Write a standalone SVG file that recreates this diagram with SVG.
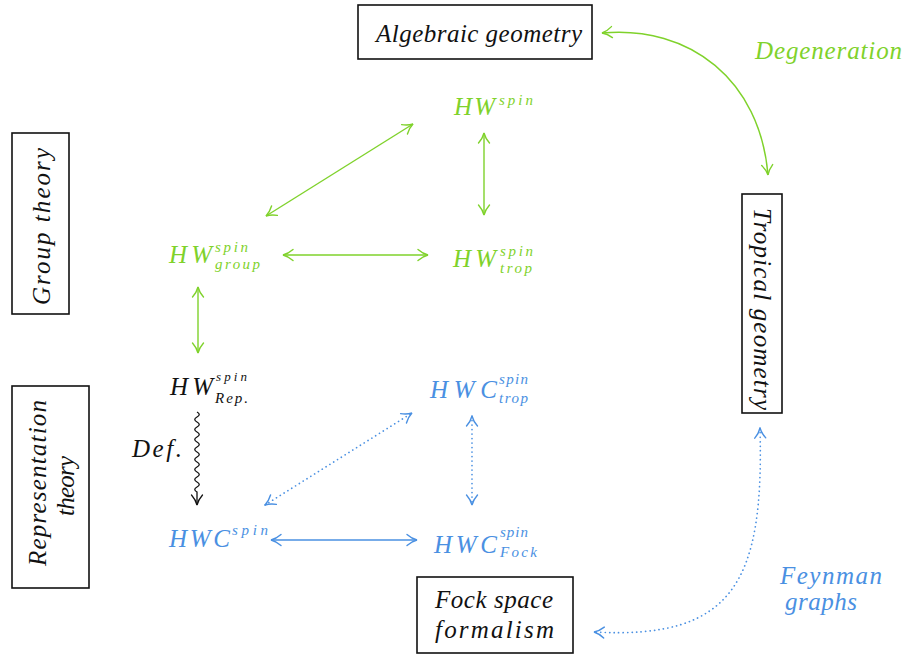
<svg xmlns="http://www.w3.org/2000/svg" width="906" height="654" viewBox="0 0 906 654">
  <style>
    text { font-family: "Liberation Serif", "DejaVu Serif", serif; font-style: italic; }
    .lg { font-size: 25px; }
    .sm { font-size: 15px; }
    .xs { font-size: 13px; }
    .green { fill: #7fd22b; }
    .blue { fill: #4a90e2; }
    .black { fill: #111; }
    .box { fill: #fff; stroke: #111; stroke-width: 1.6; }
    .eg { fill: none; stroke: #7fd22b; stroke-width: 1.4; }
    .eb { fill: none; stroke: #4a90e2; stroke-width: 1.4; }
    .dot { stroke-dasharray: 0.1 4.4; stroke-linecap: round; stroke-width: 1.7; }
    .ek { fill: none; stroke: #111; stroke-width: 1.3; }
  </style>
  <defs>
    <marker id="hg" markerUnits="userSpaceOnUse" markerWidth="14" markerHeight="14" viewBox="-12 -7 14 14" refX="0" refY="0" orient="auto-start-reverse">
      <path d="M-10,-5.5 C-6,-2 -2,-0.5 0,0 C-2,0.5 -6,2 -10,5.5" fill="none" stroke="#7fd22b" stroke-width="1.4" stroke-linecap="round"/>
    </marker>
    <marker id="hb" markerUnits="userSpaceOnUse" markerWidth="14" markerHeight="14" viewBox="-12 -7 14 14" refX="0" refY="0" orient="auto-start-reverse">
      <path d="M-10,-5.5 C-6,-2 -2,-0.5 0,0 C-2,0.5 -6,2 -10,5.5" fill="none" stroke="#4a90e2" stroke-width="1.4" stroke-linecap="round"/>
    </marker>
    <marker id="hk" markerUnits="userSpaceOnUse" markerWidth="14" markerHeight="14" viewBox="-12 -7 14 14" refX="0" refY="0" orient="auto">
      <path d="M-10,-5.5 C-6,-2 -2,-0.5 0,0 C-2,0.5 -6,2 -10,5.5" fill="none" stroke="#111" stroke-width="1.3" stroke-linecap="round"/>
    </marker>
  </defs>

  <!-- framed fields -->
  <g id="algebraic-geometry">
    <rect class="box" x="358" y="5" width="234" height="54"/>
    <text class="lg black" x="376" y="42" textLength="206" lengthAdjust="spacing">Algebraic geometry</text>
  </g>
  <g id="group-theory">
    <rect class="box" x="12" y="133" width="57" height="181"/>
    <text class="lg black" transform="translate(50,226.5) rotate(-90)" text-anchor="middle" textLength="157" lengthAdjust="spacing">Group theory</text>
  </g>
  <g id="representation-theory">
    <rect class="box" x="12" y="386" width="77" height="202"/>
    <text class="lg black" transform="translate(46,483) rotate(-90)" text-anchor="middle" textLength="166" lengthAdjust="spacing">Representation</text>
    <text class="lg black" transform="translate(74,486) rotate(-90)" text-anchor="middle" textLength="60" lengthAdjust="spacing">theory</text>
  </g>
  <g id="tropical-geometry">
    <rect class="box" x="742" y="194" width="40" height="219"/>
    <text class="lg black" transform="translate(754,309) rotate(90)" text-anchor="middle" textLength="202" lengthAdjust="spacing">Tropical geometry</text>
  </g>
  <g id="fock-space">
    <rect class="box" x="417" y="577" width="156" height="76"/>
    <text class="lg black" x="435" y="608" textLength="118" lengthAdjust="spacing">Fock space</text>
    <text class="lg black" x="435" y="638" textLength="119" lengthAdjust="spacing">formalism</text>
  </g>

  <!-- Hurwitz number nodes -->
  <g id="hw-spin">
    <text class="lg green" x="454" y="115" textLength="41" lengthAdjust="spacing">HW</text>
    <text class="sm green" x="499" y="105" textLength="34" lengthAdjust="spacing">spin</text>
  </g>
  <g id="hw-group">
    <text class="lg green" x="169" y="263" textLength="43" lengthAdjust="spacing">HW</text>
    <text class="sm green" x="215" y="252" textLength="33" lengthAdjust="spacing">spin</text>
    <text class="sm green" x="215" y="269" textLength="45" lengthAdjust="spacing">group</text>
  </g>
  <g id="hw-trop">
    <text class="lg green" x="453" y="267" textLength="43" lengthAdjust="spacing">HW</text>
    <text class="sm green" x="500" y="256" textLength="33" lengthAdjust="spacing">spin</text>
    <text class="sm green" x="500" y="273" textLength="32" lengthAdjust="spacing">trop</text>
  </g>
  <g id="hw-rep">
    <text class="lg black" x="170" y="395" textLength="43" lengthAdjust="spacing">HW</text>
    <text class="xs black" x="216" y="381" textLength="31" lengthAdjust="spacing">spin</text>
    <text class="sm black" x="215" y="403" textLength="33" lengthAdjust="spacing">Rep.</text>
  </g>
  <g id="hwc-trop">
    <text class="lg blue" x="430" y="398" textLength="67" lengthAdjust="spacing">HWC</text>
    <text class="sm blue" x="499" y="384" textLength="29" lengthAdjust="spacing">spin</text>
    <text class="sm blue" x="499" y="403" textLength="29" lengthAdjust="spacing">trop</text>
  </g>
  <g id="hwc-spin">
    <text class="lg blue" x="169" y="547" textLength="61" lengthAdjust="spacing">HWC</text>
    <text class="sm blue" x="232" y="535" textLength="36" lengthAdjust="spacing">spin</text>
  </g>
  <g id="hwc-fock">
    <text class="lg blue" x="434" y="553" textLength="63" lengthAdjust="spacing">HWC</text>
    <text class="sm blue" x="500" y="537" textLength="28" lengthAdjust="spacing">spin</text>
    <text class="sm blue" x="500" y="557" textLength="37" lengthAdjust="spacing">Fock</text>
  </g>

  <!-- connectors -->
  <g id="connectors">
    <path class="eg" d="M602,33 C690,25 760,80 768,175" marker-start="url(#hg)" marker-end="url(#hg)"/>
    <path class="eg" d="M266,216 L413,124" marker-start="url(#hg)" marker-end="url(#hg)"/>
    <path class="eg" d="M484,133 L484,215" marker-start="url(#hg)" marker-end="url(#hg)"/>
    <path class="eg" d="M283,255 L428,255" marker-start="url(#hg)" marker-end="url(#hg)"/>
    <path class="eg" d="M198,287 L198,353" marker-start="url(#hg)" marker-end="url(#hg)"/>
    <path class="ek" d="M197,412 q4.5,2.5 0,5 t0,5 t0,5 t0,5 t0,5 t0,5 t0,5 t0,5 t0,5 t0,5 t0,5 t0,5 t0,5 t0,5 t0,5 t0,5 L197,505" marker-end="url(#hk)"/>
    <path class="eb dot" d="M265,505 L412,413" marker-start="url(#hb)" marker-end="url(#hb)"/>
    <path class="eb dot" d="M472,416 L472,505" marker-start="url(#hb)" marker-end="url(#hb)"/>
    <path class="eb" d="M271,540 L417,540" marker-start="url(#hb)" marker-end="url(#hb)"/>
    <path class="eb dot" d="M760,428 C764,580 735,640 594,632" marker-start="url(#hb)" marker-end="url(#hb)"/>
  </g>

  <!-- connector labels -->
  <text class="lg green" x="755" y="59" textLength="147" lengthAdjust="spacing">Degeneration</text>
  <text class="lg black" x="132" y="457" textLength="50" lengthAdjust="spacing">Def.</text>
  <text class="lg blue" x="780" y="584" textLength="102" lengthAdjust="spacing">Feynman</text>
  <text class="lg blue" x="785" y="610" textLength="72" lengthAdjust="spacing">graphs</text>
</svg>
